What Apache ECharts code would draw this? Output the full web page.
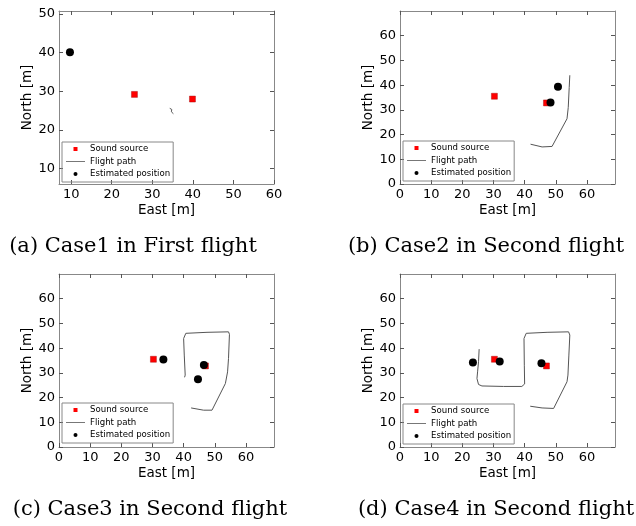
<!DOCTYPE html>
<html>
<head>
<meta charset="utf-8">
<script src="https://cdn.jsdelivr.net/npm/echarts@6/dist/echarts.min.js"></script>
<style>
  html, body { margin: 0; padding: 0; background: #fff; }
  #main { width: 636px; height: 526px; }
</style>
</head>
<body>
<div id="main"></div>
<script>
// sound sources, flight paths and estimated positions per case [east, north]
var caseASource = [[25.6, 29.2], [39.9, 28.0]];
var caseAPath = [[34.3, 25.6], [34.8, 25.3], [34.7, 24.7], [35.2, 24.2]];
var caseAEstimate = [[9.7, 40.1]];

var secondSource = [[30.3, 35.5], [47.0, 32.8]];

var caseBPath = [[41.9, 16.1], [45.6, 15.0], [48.8, 15.2], [49.3, 15.6], [53.6, 26.4],
  [54.0, 31.0], [54.3, 39.0], [54.5, 44.0]];
var caseBEstimate = [[48.3, 33.0], [50.7, 39.3]];

var caseCPath = [[42.4, 15.8], [46.4, 14.9], [49.1, 14.9], [53.4, 25.7], [54.1, 30.4],
  [54.4, 35.8], [54.7, 45.6], [54.4, 46.6], [47.5, 46.4], [40.7, 46.0], [40.0, 43.9],
  [40.2, 37.2], [40.5, 29.1], [40.3, 28.2]];
var caseCEstimate = [[33.5, 35.4], [46.5, 33.2], [44.6, 27.4]];

var caseDPath = [[25.4, 39.6], [25.2, 34.5], [24.9, 30.4], [24.7, 27.7], [25.2, 25.3],
  [26.3, 24.7], [33.2, 24.5], [39.1, 24.5], [40.0, 25.5], [39.9, 33.1], [39.8, 43.9],
  [40.5, 46.0], [47.2, 46.4], [54.1, 46.6], [54.5, 45.3], [54.2, 37.2], [53.9, 29.1],
  [53.6, 26.4], [49.3, 15.6], [48.8, 15.2], [45.6, 15.8], [41.8, 16.5]];
var caseDEstimate = [[23.4, 34.2], [32.0, 34.6], [45.4, 33.9]];

var ticksA_x = [10, 20, 30, 40, 50, 60];
var ticksA_y = [10, 20, 30, 40, 50];
var ticks_xy = [0, 10, 20, 30, 40, 50, 60];

var captions = ['(a) Case1 in First flight', '(b) Case2 in Second flight',
  '(c) Case3 in Second flight', '(d) Case4 in Second flight'];

var frameColor = '#888';
var squareIcon = 'path://M0,0M7,7M1.5,1.5h4v4h-4z';
var dotIcon = 'path://M0,0M7,7M5.5,3.5A2,2,0,1,1,1.5,3.5A2,2,0,1,1,5.5,3.5z';
var lineIcon = 'path://M0,0h19v1h-19z';

var grids = [
  {left: 59, top: 11, width: 215, height: 173},
  {left: 400, top: 11, width: 215, height: 173},
  {left: 59, top: 274, width: 215, height: 173},
  {left: 400, top: 274, width: 215, height: 173}
];

function frameAxis(gi, pos, min, max, ticks, withLabels, name, isX) {
  var ax = {
    type: 'value',
    gridIndex: gi,
    position: pos,
    min: min,
    max: max,
    axisLine: {show: true, onZero: false, lineStyle: {color: frameColor, width: 1}},
    axisTick: {show: true, inside: true, length: 4, customValues: ticks, lineStyle: {color: '#555'}},
    axisLabel: {show: withLabels, customValues: ticks, fontFamily: 'DejaVu Sans', fontSize: 13, color: '#000', margin: 4},
    splitLine: {show: false}
  };
  if (withLabels) {
    ax.name = name;
    ax.nameLocation = 'middle';
    ax.nameGap = isX ? 19 : 23;
    ax.nameTextStyle = {fontFamily: 'DejaVu Sans', fontSize: 13.5, color: '#000'};
  }
  return ax;
}

function makeLegend(left, top) {
  return {
    left: left,
    top: top,
    orient: 'vertical',
    padding: [2, 3, 3, 4],
    itemGap: 2.5,
    itemWidth: 19,
    itemHeight: 7,
    borderColor: frameColor,
    borderWidth: 1,
    selectedMode: false,
    textStyle: {fontFamily: 'DejaVu Sans', fontSize: 8.6, color: '#000', lineHeight: 10},
    data: [
      {name: 'Sound source', icon: squareIcon, itemStyle: {color: '#ff0000', opacity: 1, borderWidth: 0}},
      {name: 'Flight path', icon: lineIcon, itemStyle: {color: '#777', opacity: 1, borderWidth: 0}},
      {name: 'Estimated position', icon: dotIcon, itemStyle: {color: '#000', opacity: 1, borderWidth: 0}}
    ]
  };
}

function caseSeries(gi, src, path, est) {
  return [{
    name: 'Sound source', type: 'scatter', xAxisIndex: 2 * gi, yAxisIndex: 2 * gi,
    symbol: 'rect', symbolSize: 6,
    itemStyle: {color: '#ff0000', borderColor: '#900', borderWidth: 0.4, opacity: 1},
    data: src
  }, {
    name: 'Flight path', type: 'line', xAxisIndex: 2 * gi, yAxisIndex: 2 * gi,
    showSymbol: false, symbol: 'none',
    lineStyle: {color: '#555', width: 1}, itemStyle: {color: '#555'},
    data: path
  }, {
    name: 'Estimated position', type: 'scatter', xAxisIndex: 2 * gi, yAxisIndex: 2 * gi,
    symbol: 'circle', symbolSize: 8,
    itemStyle: {color: '#000', opacity: 1},
    data: est
  }];
}

var xAxes = [], yAxes = [];
var ranges = [
  {x: [7, 60], y: [6, 50.8], xt: ticksA_x, yt: ticksA_y},
  {x: [0, 69], y: [0, 70], xt: ticks_xy, yt: ticks_xy},
  {x: [0, 69], y: [0, 70], xt: ticks_xy, yt: ticks_xy},
  {x: [0, 69], y: [0, 70], xt: ticks_xy, yt: ticks_xy}
];
for (var i = 0; i < 4; i++) {
  var r = ranges[i];
  xAxes.push(frameAxis(i, 'bottom', r.x[0], r.x[1], r.xt, true, 'East [m]', true));
  xAxes.push(frameAxis(i, 'top', r.x[0], r.x[1], r.xt, false));
  yAxes.push(frameAxis(i, 'left', r.y[0], r.y[1], r.yt, true, 'North [m]', false));
  yAxes.push(frameAxis(i, 'right', r.y[0], r.y[1], r.yt, false));
}

var series = [].concat(
  caseSeries(0, caseASource, caseAPath, caseAEstimate),
  caseSeries(1, secondSource, caseBPath, caseBEstimate),
  caseSeries(2, secondSource, caseCPath, caseCEstimate),
  caseSeries(3, secondSource, caseDPath, caseDEstimate)
);

var capPos = [[133, 247], [486, 247], [150, 510], [496, 510]];
var graphics = [];
for (var k = 0; k < 4; k++) {
  graphics.push({
    type: 'text',
    x: capPos[k][0],
    y: capPos[k][1],
    style: {
      text: captions[k],
      font: '21px "DejaVu Serif"',
      fill: '#000',
      align: 'center',
      verticalAlign: 'middle',
      textAlign: 'center',
      textVerticalAlign: 'middle'
    }
  });
}

var chart = echarts.init(document.getElementById('main'), null, {renderer: 'canvas'});
chart.setOption({
  animation: false,
  backgroundColor: '#fff',
  grid: grids,
  xAxis: xAxes,
  yAxis: yAxes,
  legend: [makeLegend(62, 142), makeLegend(403, 141), makeLegend(62, 403), makeLegend(403, 404)],
  graphic: graphics,
  series: series
});
</script>
</body>
</html>
